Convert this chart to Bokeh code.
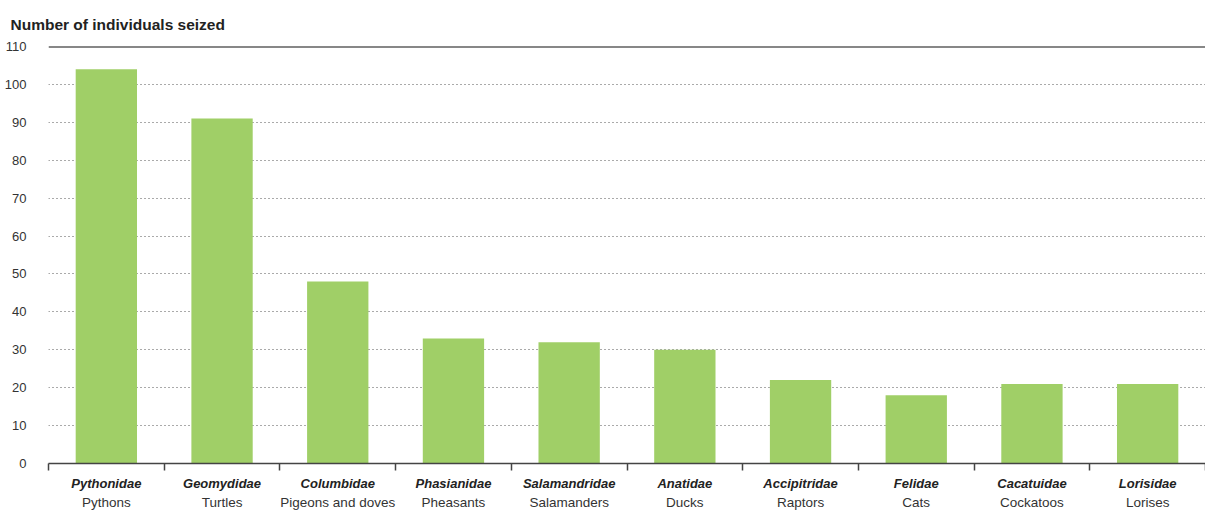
from bokeh.plotting import figure
from bokeh.models import (Range1d, FixedTicker, LinearAxis, Span, Title,
                          CustomJSTickFormatter, ColumnDataSource)
from bokeh.embed import file_html
from bokeh.resources import INLINE

families = ["Pythonidae", "Geomydidae", "Columbidae", "Phasianidae", "Salamandridae",
            "Anatidae", "Accipitridae", "Felidae", "Cacatuidae", "Lorisidae"]
common = ["Pythons", "Turtles", "Pigeons and doves", "Pheasants", "Salamanders",
          "Ducks", "Raptors", "Cats", "Cockatoos", "Lorises"]
seized = [104, 91, 48, 33, 32, 30, 22, 18, 21, 21]
y_ticks = [0, 10, 20, 30, 40, 50, 60, 70, 80, 90, 100, 110]

FONT = "Liberation Sans"
n = len(families)
centers = [i + 0.5 for i in range(n)]
src = ColumnDataSource(dict(x=centers, top=seized, fam=families, com=common))

p = figure(width=1205, height=512, output_backend="svg", toolbar_location=None,
           x_range=Range1d(0, n), y_range=Range1d(0, 110),
           min_border_left=48, min_border_right=0, min_border_top=46,
           min_border_bottom=0, x_axis_location=None)
p.outline_line_color = None
p.background_fill_color = "white"

p.vbar(x="x", top="top", width=0.53, source=src, fill_color="#A0CF67", line_color=None)

# title
t = Title(text="Number of individuals seized", align="left", offset=-38,
          text_font=FONT, text_font_size="15.5px", text_font_style="bold",
          text_color="#222222", standoff=27)
p.add_layout(t, "above")

# y axis
p.yaxis.ticker = FixedTicker(ticks=y_ticks)
p.yaxis.axis_line_color = None
p.yaxis.major_tick_line_color = None
p.yaxis.minor_tick_line_color = None
p.yaxis.major_label_text_font = FONT
p.yaxis.major_label_text_font_size = "13px"
p.yaxis.major_label_text_color = "#333333"
p.yaxis.major_label_standoff = 16

p.ygrid.ticker = FixedTicker(ticks=y_ticks[1:-1])
p.ygrid.grid_line_color = "#555555"
p.ygrid.grid_line_dash = "1 3"
p.ygrid.grid_line_width = 1
p.xgrid.grid_line_color = None

p.add_layout(Span(location=110, dimension="width", line_color="#111111", line_width=2))

# x axis: family names + boundary ticks
ax1 = LinearAxis(ticker=FixedTicker(ticks=centers, minor_ticks=list(range(n + 1))),
                 formatter=CustomJSTickFormatter(args=dict(labels=families),
                                                 code="return labels[Math.floor(tick)]"))
ax1.axis_line_color = "#444444"
ax1.axis_line_width = 1.5
ax1.major_tick_line_color = None
ax1.major_tick_out = 0
ax1.minor_tick_line_color = "#444444"
ax1.minor_tick_line_width = 1.5
ax1.minor_tick_in = 0
ax1.minor_tick_out = 7
ax1.major_label_text_font = FONT
ax1.major_label_text_font_size = "13px"
ax1.major_label_text_font_style = "bold italic"
ax1.major_label_text_color = "#222222"
ax1.major_label_standoff = 5
p.add_layout(ax1, "below")

ax2 = LinearAxis(ticker=FixedTicker(ticks=centers),
                 formatter=CustomJSTickFormatter(args=dict(labels=common),
                                                 code="return labels[Math.floor(tick)]"))
ax2.axis_line_color = None
ax2.major_tick_line_color = None
ax2.minor_tick_line_color = None
ax2.major_tick_out = 0
ax2.major_label_text_font = FONT
ax2.major_label_text_font_size = "13.5px"
ax2.major_label_text_color = "#333333"
ax2.major_label_standoff = 1
p.add_layout(ax2, "below")

open("out.html", "w").write(file_html(p, INLINE))
